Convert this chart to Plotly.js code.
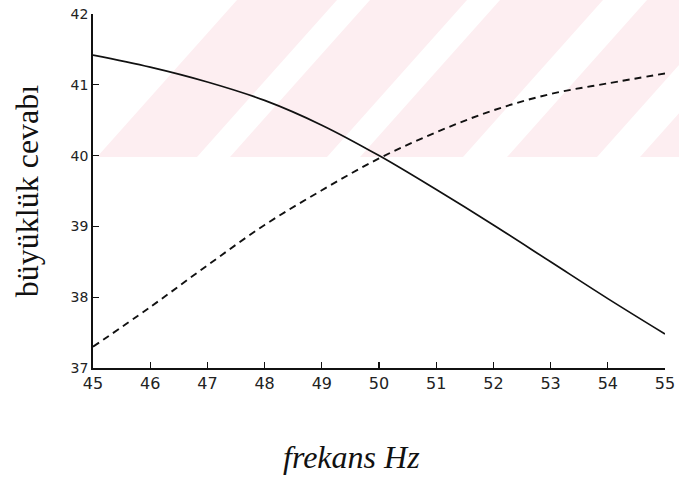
<!DOCTYPE html>
<html>
<head>
<meta charset="utf-8">
<script src="https://cdn.plot.ly/plotly-3.0.1.min.js"></script>
<style>html,body{margin:0;padding:0;background:#fff;}#chart{width:679px;height:480px;}</style>
</head>
<body>
<div id="chart"></div>
<script>
// Data
var frequency = [45, 46, 47, 48, 49, 50, 51, 52, 53, 54, 55];
var solidSeries = [41.42, 41.25, 41.04, 40.78, 40.43, 40.0, 39.52, 39.02, 38.50, 37.98, 37.48];
var dashedSeries = [37.30, 37.86, 38.45, 39.02, 39.51, 39.96, 40.33, 40.64, 40.87, 41.02, 41.16];
var xTicks = [45, 46, 47, 48, 49, 50, 51, 52, 53, 54, 55];
var yTicks = [37, 38, 39, 40, 41, 42];
var xTitle = 'frekans Hz';
var yTitle = 'büyüklük cevabı';

// Layout geometry (pixels)
var M = {l: 93, r: 14, t: 14, b: 112};
var W = 679, H = 480;
var pw = W - M.l - M.r, ph = H - M.t - M.b;
function px(x) { return (x - M.l) / pw; }
function py(y) { return (H - M.b - y) / ph; }

// faint diagonal watermark stripes from the scan
var stripeBottoms = [[97, 197], [230, 327], [360, 463], [507, 597], [640, 780]];
var shift = 140, yb = 157, yt = 0;
var shapes = stripeBottoms.map(function (s) {
  var a = s[0], b = s[1];
  var path = 'M' + px(a) + ',' + py(yb) + ' L' + px(b) + ',' + py(yb) +
             ' L' + px(b + shift) + ',' + py(yt) + ' L' + px(a + shift) + ',' + py(yt) + ' Z';
  return {type: 'path', xref: 'paper', yref: 'paper', path: path,
          fillcolor: 'rgb(253,238,241)', line: {width: 0}, layer: 'below'};
});

var traces = [
  {x: frequency, y: solidSeries, mode: 'lines', type: 'scatter',
   line: {color: '#111', width: 1.7, shape: 'spline', smoothing: 1}, showlegend: false},
  {x: frequency, y: dashedSeries, mode: 'lines', type: 'scatter',
   line: {color: '#111', width: 1.9, dash: '7px,5px', shape: 'spline', smoothing: 1}, showlegend: false}
];

var layout = {
  width: W, height: H,
  margin: M,
  paper_bgcolor: '#fff', plot_bgcolor: 'rgba(0,0,0,0)',
  showlegend: false,
  shapes: shapes,
  annotations: [{
    text: '<i>' + xTitle + '</i>', xref: 'paper', yref: 'paper',
    x: px(351), y: py(457), xanchor: 'center', yanchor: 'middle', showarrow: false,
    font: {family: 'Liberation Serif', size: 32, color: '#111'}
  }],
  xaxis: {
    range: [45, 55], tickvals: xTicks, ticktext: xTicks.map(String),
    showgrid: false, zeroline: false, showline: true, linecolor: '#111', linewidth: 1.5,
    ticks: 'inside', ticklen: 6, tickcolor: '#111', tickwidth: 1.3,
    tickfont: {family: 'DejaVu Sans', size: 16, color: '#222'}
  },
  yaxis: {
    range: [37, 42], tickvals: yTicks, ticktext: yTicks.map(String),
    showgrid: false, zeroline: false, showline: true, linecolor: '#111', linewidth: 1.8,
    ticks: 'inside', ticklen: 6, tickcolor: '#111', tickwidth: 1.3,
    tickfont: {family: 'DejaVu Sans', size: 14, color: '#222'},
    title: {text: yTitle, font: {family: 'Liberation Serif', size: 32, color: '#111'}, standoff: 22}
  }
};

Plotly.newPlot('chart', traces, layout, {staticPlot: true, displayModeBar: false});
</script>
</body>
</html>
